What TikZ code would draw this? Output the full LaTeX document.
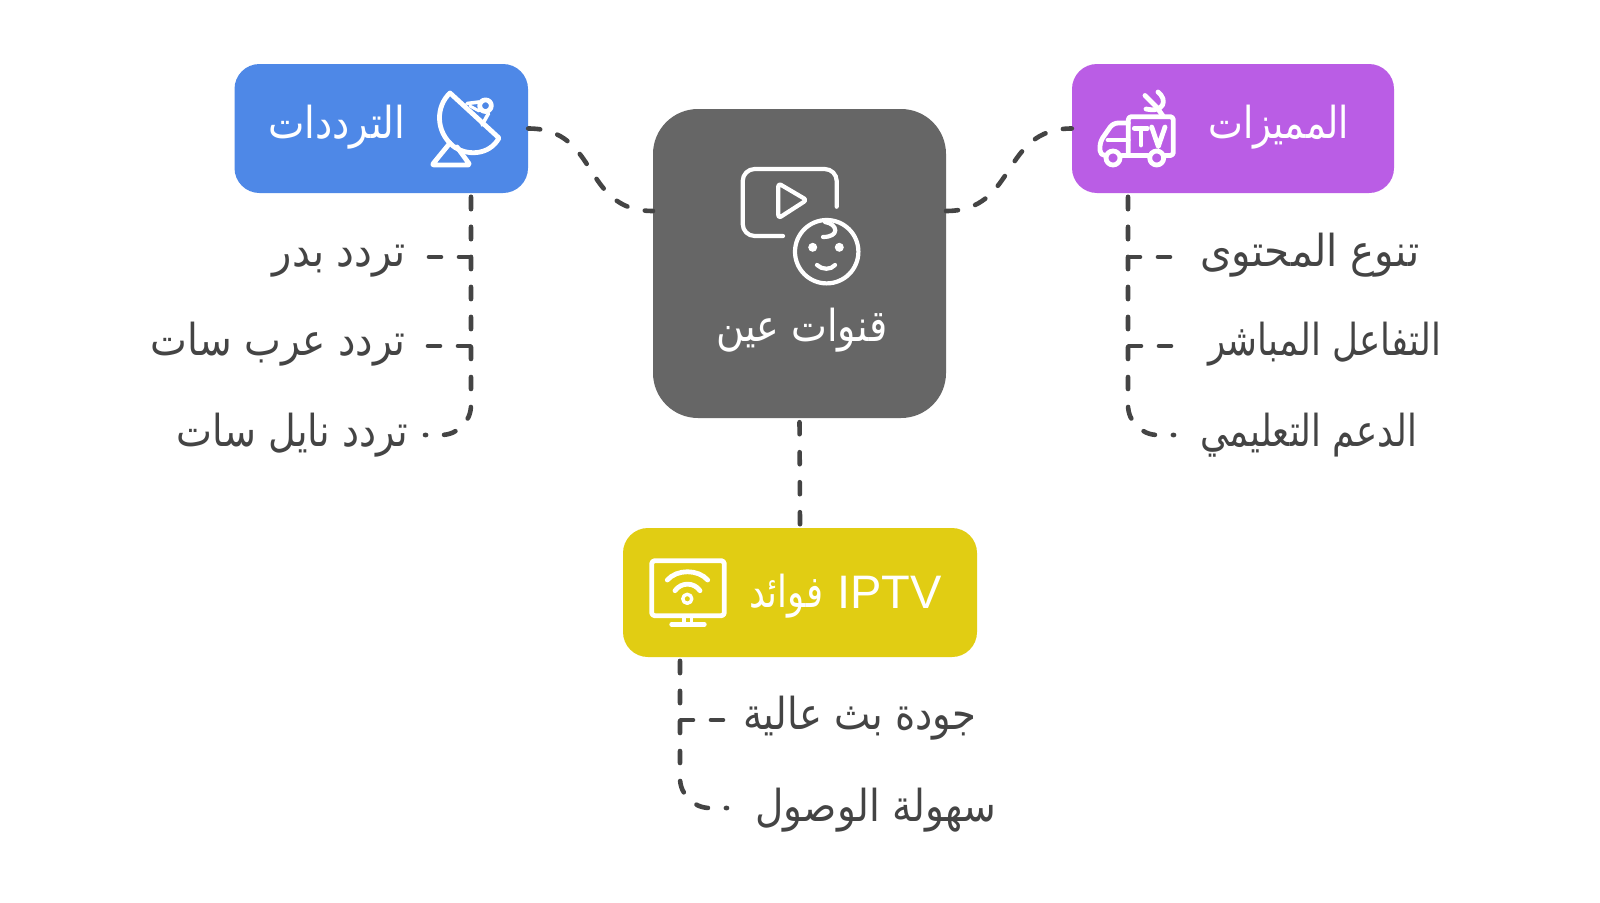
\documentclass[tikz,border=0pt]{standalone}
\usepackage{fontspec}
\usepackage{graphicx}
\setmainfont{Liberation Sans}
\newfontfamily\arabicfont[Script=Arabic]{DejaVu Sans}
\TeXXeTstate=1
\usetikzlibrary{calc}
\definecolor{blueBox}{HTML}{4E88E7}
\definecolor{purpleBox}{HTML}{BA5DE5}
\definecolor{yellowBox}{HTML}{E1CD13}
\definecolor{greyBox}{HTML}{666666}
\definecolor{inkDark}{HTML}{444444}
\newcommand\artxt[2]{\resizebox{#1pt}{\height}{\arabicfont #2}}
\tikzset{
  topicbox/.style={rounded corners=25pt, inner sep=0pt, draw=none},
  corebox/.style={rounded corners=45pt, fill=greyBox, inner sep=0pt, minimum width=293pt, minimum height=309pt},
  link/.style={draw=inkDark, line width=4.6pt, line cap=round, dash pattern=on 12pt off 18pt},
  trunklink/.style={link, dash phase=26pt},
  headtxt/.style={text=white, inner sep=0pt, font=\fontsize{44}{52}\selectfont},
  leaf/.style={text=inkDark, inner ysep=0pt, font=\fontsize{44}{52}\selectfont, text height=27pt, text depth=9pt},
  leaflow/.style={text=inkDark, inner ysep=0pt, font=\fontsize{44}{52}\selectfont, text height=29pt, text depth=7pt},
  leaflower/.style={text=inkDark, inner ysep=0pt, font=\fontsize{44}{52}\selectfont, text height=31pt, text depth=5pt},
  ic/.style={draw=white, line width=4.8pt, line cap=round, line join=round},
  icthin/.style={draw=white, line width=4.2pt, line cap=round, line join=round},
}
\begin{document}
\begin{tikzpicture}[x=1pt,y=-1pt]
\useasboundingbox (0,0) rectangle (1600,902);
\fill[white] (0,0) rectangle (1600,902);

% boxes
\node[corebox] (core) at (799.5,263.5) {};
\node[topicbox, fill=blueBox, minimum width=293.5pt, minimum height=129pt] (blue) at (381.25,128.5) {};
\node[topicbox, fill=purpleBox, minimum width=322pt, minimum height=129pt] (purple) at (1233,128.5) {};
\node[topicbox, fill=yellowBox, minimum width=354pt, minimum height=129pt] (yellow) at (800,592.5) {};

% head labels
\node[headtxt, anchor=base west] (tblue) at (268,138) {\artxt{137}{\beginR الترددات\endR}};
\node[headtxt, anchor=base west] (tpurple) at (1208,138) {\artxt{141}{\beginR المميزات\endR}};
\node[headtxt, anchor=base west] (tcore) at (716,341) {\artxt{171}{\beginR قنوات عين\endR}};
\node[headtxt, anchor=base west] (tyellowA) at (749,607) {\artxt{74}{\beginR فوائد\endR}};
\node[headtxt, anchor=base west, font=\fontsize{47}{54}\selectfont] (tyellowB) at (837,608) {IPTV};

% leaf labels
\node[leaf, anchor=east, inner xsep=22pt] (b1) at (428,257) {\artxt{133}{\beginR تردد بدر\endR}};
\node[leaf, anchor=east, inner xsep=22pt] (b2) at (428,346) {\artxt{255}{\beginR تردد عرب سات\endR}};
\node[leaflow, anchor=east, inner xsep=17pt] (b3) at (425,435) {\artxt{231}{\beginR تردد نايل سات\endR}};
\node[leaf, anchor=west, inner xsep=26pt] (p1) at (1174,257) {\artxt{219}{\beginR تنوع المحتوى\endR}};
\node[leaf, anchor=west, inner xsep=34pt] (p2) at (1174,346) {\artxt{233}{\beginR التفاعل المباشر\endR}};
\node[leaflow, anchor=west, inner xsep=26pt] (p3) at (1174,435) {\artxt{217}{\beginR الدعم التعليمي\endR}};
\node[leaf, anchor=west, inner xsep=16pt] (y1) at (727,720) {\artxt{233}{\beginR جودة بث عالية\endR}};
\node[leaflower, anchor=west, inner xsep=28pt] (y2) at (727,808) {\artxt{241}{\beginR سهولة الوصول\endR}};

% ports
\coordinate (coreL) at (653,211);
\coordinate (coreR) at (946,211);
\coordinate (bluePort) at (471,193);
\coordinate (purplePort) at (1128,193);
\coordinate (yellowPort) at (680,657);

% connectors
\draw[link] (blue.east) .. controls (600,128.5) and (581,211) .. (coreL);
\draw[link] (coreR) .. controls (1018,211) and (1000,128.5) .. (purple.west);
\draw[trunklink] (core.south) -- (yellow.north);

\draw[trunklink] (bluePort) -- (bluePort |- b1.east) -- (b1.east);
\draw[trunklink] (bluePort) -- (bluePort |- b2.east) -- (b2.east);
\draw[trunklink, rounded corners=30pt] (bluePort) -- (bluePort |- b3.east) -- (b3.east);

\draw[trunklink] (purplePort) -- (purplePort |- p1.west) -- (p1.west);
\draw[trunklink] (purplePort) -- (purplePort |- p2.west) -- (p2.west);
\draw[trunklink, rounded corners=30pt] (purplePort) -- (purplePort |- p3.west) -- (p3.west);

\draw[trunklink] (yellowPort) -- (yellowPort |- y1.west) -- (y1.west);
\draw[trunklink, rounded corners=30pt] (yellowPort) -- (yellowPort |- y2.west) -- (y2.west);

% satellite dish icon
\draw[ic] (450,93) .. controls (436,106) and (435,131) .. (453,146)
  .. controls (466,156) and (489,156) .. (499,138) -- cycle;
\draw[ic, rounded corners=2pt] (450,143) -- (432,165) -- (470,165) -- (457,147);
\draw[ic] (485.5,105.7) circle (5.8);
\draw[ic, line width=3.6pt] (467,103.5) -- (479,102);
\draw[ic, line width=3.6pt] (488.5,113.5) -- (482,125);
\draw[ic, line width=3pt] (470,106) -- (479,111);

% screen with baby face icon
\draw[icthin, rounded corners=12pt] (836.7,206.7) -- (836.7,169) -- (742.7,169) -- (742.7,236) -- (783,236);
\draw[icthin, rounded corners=3pt] (778.3,183.3) -- (806.7,200) -- (778.3,218.3) -- cycle;
\draw[icthin] (826.7,251.7) circle (31.7);
\fill[white] (812.7,247.3) circle (4.5) (839.3,247.3) circle (4.5);
\draw[icthin] (817,265) .. controls (822,270) and (831,270) .. (835,265);
\draw[icthin] (825,222) .. controls (838,224) and (840,237) .. (823,237);

% TV van icon
\draw[ic, rounded corners=3pt] (1128.3,155.5) -- (1128.3,116.7) -- (1173.3,116.7) -- (1173.3,155.5) -- (1165,155.5);
\draw[ic, rounded corners=5pt] (1128.3,123) -- (1113,123) -- (1100,141.7) -- (1100,155.5) -- (1105,155.5);
\draw[ic] (1122,155.5) -- (1148,155.5);
\draw[ic] (1108,140) -- (1128.3,140);
\draw[ic] (1113,158) circle (7);
\draw[ic] (1156.7,158) circle (7);
\draw[ic] (1134.3,128.3) -- (1147.3,128.3) (1141,128.3) -- (1141,145);
\draw[ic] (1151.7,127) -- (1158.3,146.5) -- (1165,127);
\draw[ic] (1145,95.5) -- (1158,108.5);
\draw[ic] (1158,92) .. controls (1168,100) and (1164,113) .. (1146,109);
\draw[ic] (1158,109) -- (1163,116);

% wifi TV icon
\draw[ic, rounded corners=3pt] (651.7,560.7) rectangle (724.3,615.7);
\draw[ic] (671.7,624.3) -- (704.3,624.3);
\draw[ic, line width=3.6pt] (684,617) -- (684,623) (691.5,617) -- (691.5,623);
\draw[ic] (667.3,580) .. controls (677,569) and (698,569) .. (707.7,580);
\draw[ic] (675,590.7) .. controls (681,582) and (694,582) .. (700,590.7);
\draw[ic, line width=3.4pt] (687.3,598.8) circle (4.5);
\end{tikzpicture}
\end{document}
